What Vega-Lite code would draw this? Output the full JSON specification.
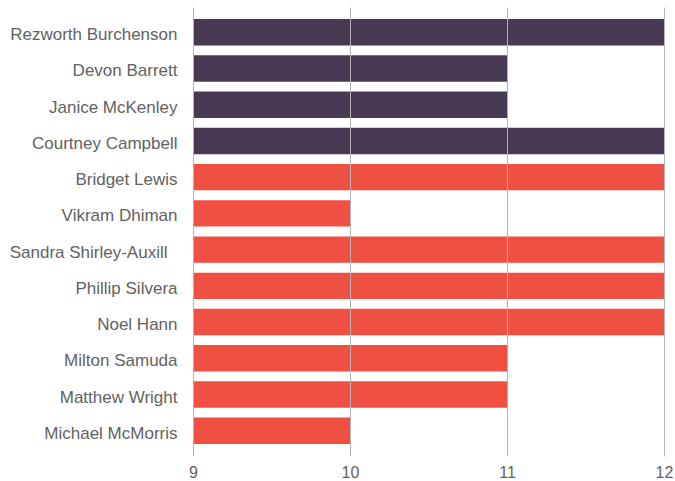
{
  "$schema": "https://vega.github.io/schema/vega-lite/v6.json",
  "width": 471,
  "height": 449,
  "autosize": {"type": "none"},
  "padding": {"left": 193, "top": 7, "right": 11, "bottom": 25},
  "background": "white",
  "config": {
    "view": {"stroke": null},
    "font": "Liberation Sans"
  },
  "data": {
    "values": [
      {"name": "Rezworth Burchenson", "value": 12, "group": "A"},
      {"name": "Devon Barrett", "value": 11, "group": "A"},
      {"name": "Janice McKenley", "value": 11, "group": "A"},
      {"name": "Courtney Campbell", "value": 12, "group": "A"},
      {"name": "Bridget Lewis", "value": 12, "group": "B"},
      {"name": "Vikram Dhiman", "value": 10, "group": "B"},
      {"name": "Sandra Shirley-Auxill", "value": 12, "group": "B"},
      {"name": "Phillip Silvera", "value": 12, "group": "B"},
      {"name": "Noel Hann", "value": 12, "group": "B"},
      {"name": "Milton Samuda", "value": 11, "group": "B"},
      {"name": "Matthew Wright", "value": 11, "group": "B"},
      {"name": "Michael McMorris", "value": 10, "group": "B"}
    ]
  },
  "mark": {"type": "bar"},
  "encoding": {
    "y": {
      "field": "name",
      "type": "nominal",
      "sort": null,
      "scale": {"paddingInner": 0.27, "paddingOuter": 0.33},
      "axis": {
        "title": null,
        "domain": false,
        "ticks": false,
        "tickSize": 0,
        "grid": false,
        "labelPadding": {"condition": {"test": "datum.label === 'Sandra Shirley-Auxill'", "value": 26}, "value": 16},
        "labelOffset": 3,
        "labelFontSize": 17,
        "labelColor": "#626262",
        "labelFont": "Liberation Sans"
      }
    },
    "x": {
      "field": "value",
      "type": "quantitative",
      "scale": {"domain": [9, 12], "zero": false, "nice": false},
      "axis": {
        "title": null,
        "values": [9, 10, 11, 12],
        "domain": false,
        "ticks": false,
        "tickSize": 0,
        "grid": true,
        "gridColor": "#b3b3b3",
        "gridWidth": 1,
        "gridOpacity": 1,
        "labelPadding": 8,
        "labelFlush": false,
        "labelFontSize": 16,
        "labelColor": "#626262",
        "labelFont": "Liberation Sans",
        "zindex": 1
      }
    },
    "x2": {"datum": 9},
    "color": {
      "field": "group",
      "type": "nominal",
      "scale": {"domain": ["A", "B"], "range": ["#493a54", "#f05042"]},
      "legend": null
    }
  }
}
